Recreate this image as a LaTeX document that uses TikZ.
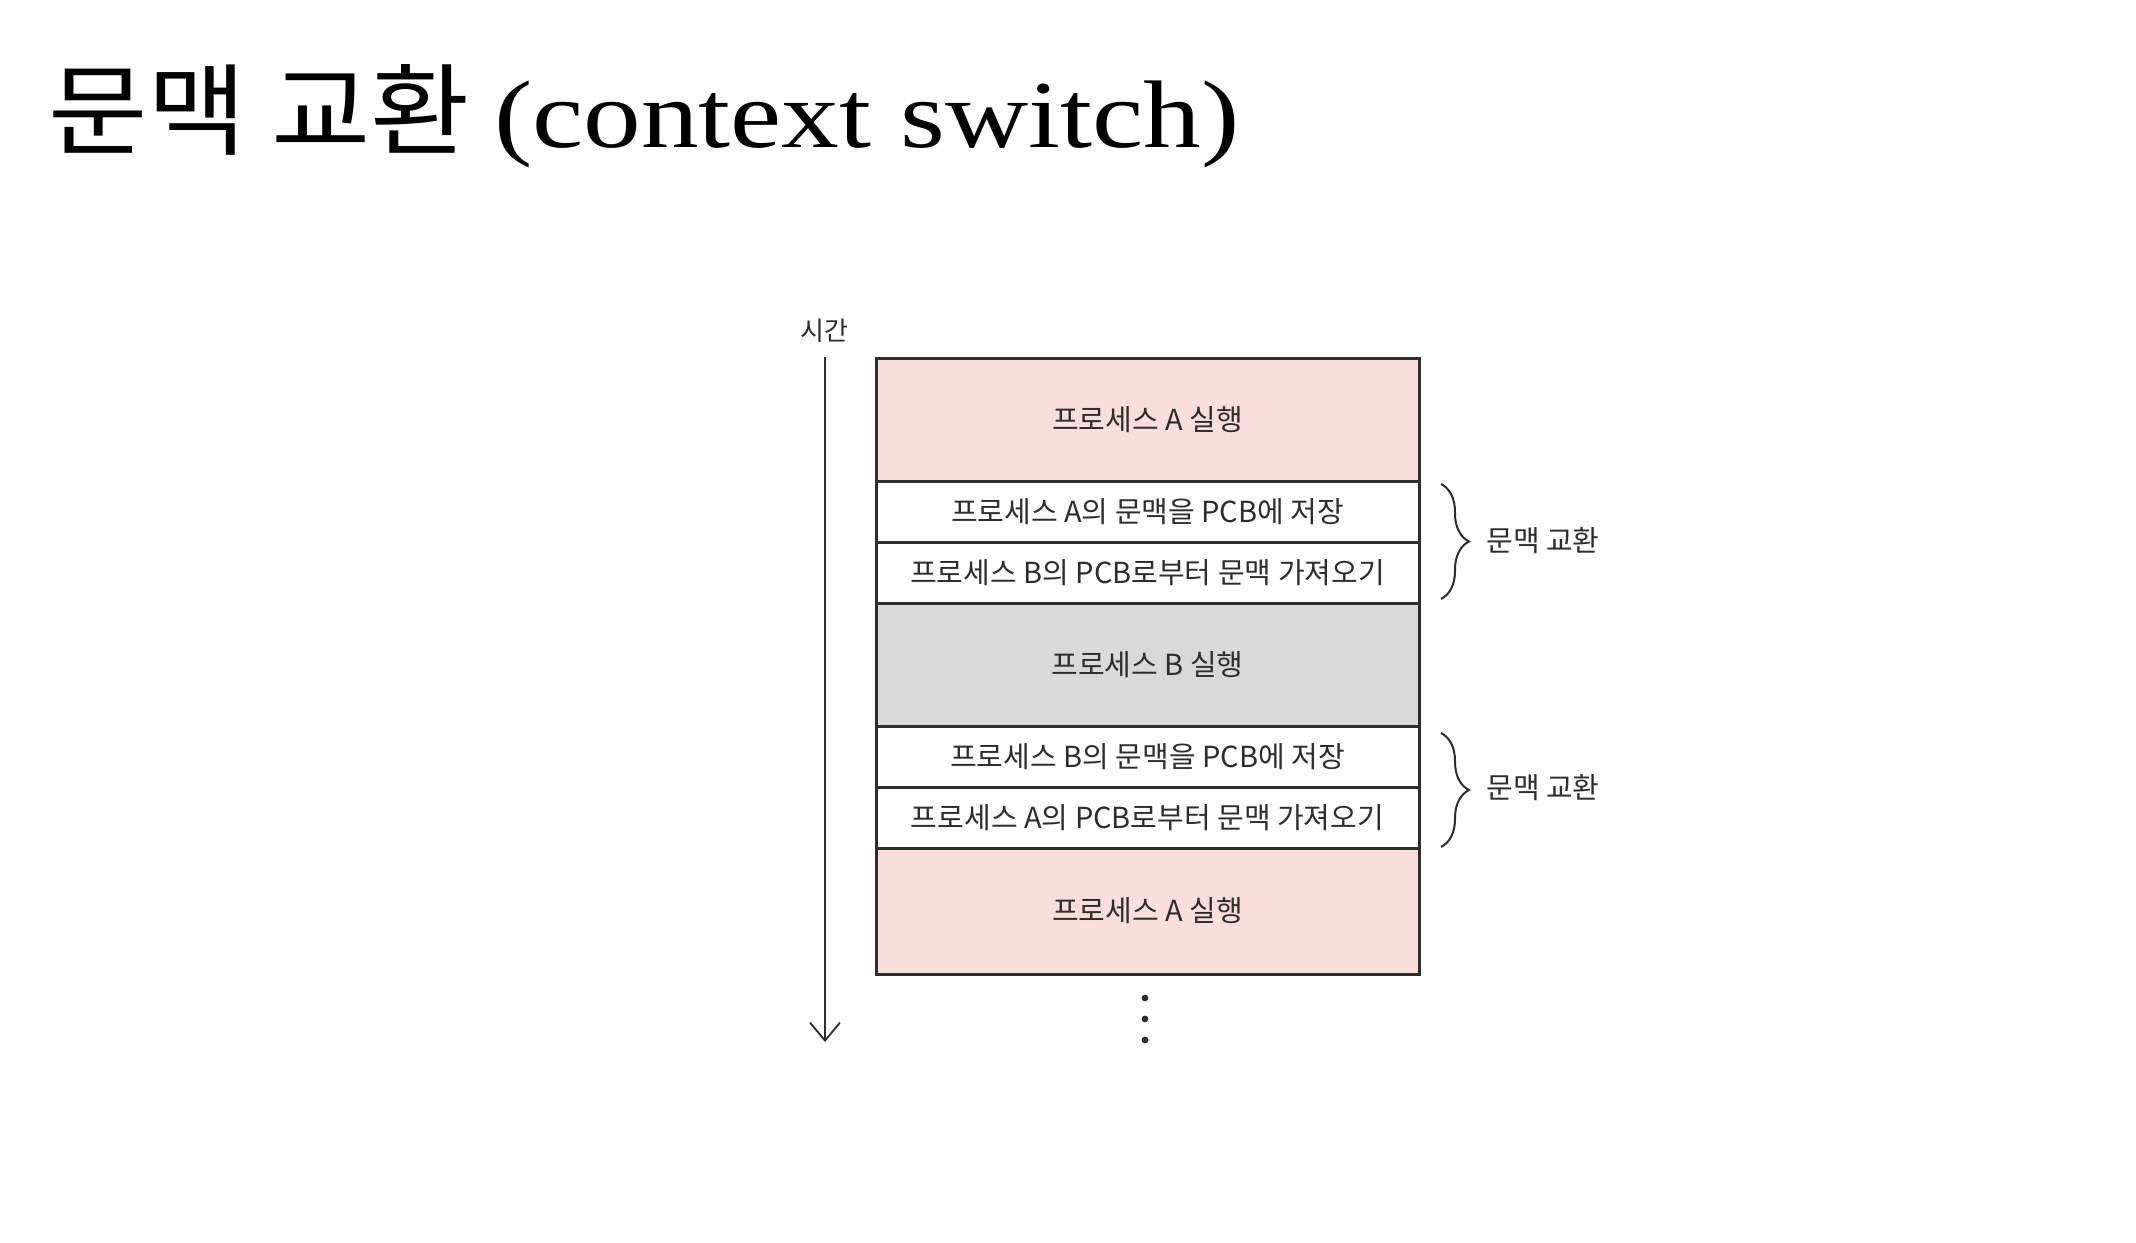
\documentclass[tikz,border=0pt]{standalone}
\usepackage{fontspec}
\setmainfont{Liberation Serif}
\newfontfamily\kr{Noto Sans CJK KR}
\newfontfamily\krtitle[FakeStretch=1.08]{Noto Sans CJK KR}
\newfontfamily\titlefont[FakeStretch=1.2]{Liberation Serif}
\usetikzlibrary{arrows.meta,decorations.pathreplacing}
\definecolor{pinkA}{RGB}{249,222,219}
\definecolor{grayB}{RGB}{217,217,217}
\definecolor{ink}{RGB}{45,45,45}
\begin{document}
\begin{tikzpicture}[x=0.5pt,y=-0.5pt,
  rowbox/.style={draw=ink, line width=1.5pt, minimum width=271.5pt, inner sep=0pt,
    font=\kr\fontsize{14.5}{17}\selectfont, text=ink},
  tall/.style={rowbox, minimum height=61.5pt},
  short/.style={rowbox, minimum height=30.5pt, fill=white},
  bracelbl/.style={font=\kr\fontsize{14.5}{17}\selectfont, text=ink},
  bracestyle/.style={draw=ink, line width=1pt, decorate, decoration={brace, amplitude=14pt}},
  dotnode/.style={circle, fill=ink, inner sep=0pt, minimum size=3.4pt}
]
\fill[white] (0,0) rectangle (2136,1242);
\useasboundingbox (0,0) rectangle (2136,1242);

% title
\node[anchor=base west, inner sep=0pt] (title) at (48,147)
  {{\krtitle\fontsize{50}{54}\selectfont 문맥 교환}\hspace{12pt}{\titlefont\fontsize{48}{54}\selectfont (context switch)}};

% rows
\node[tall, fill=pinkA] (rA1) at (1147.5,419.5) {프로세스 A 실행};
\node[short] (rS1) at (1147.5,511.5) {프로세스 A의 문맥을 PCB에 저장};
\node[short] (rL1) at (1147.5,572.5) {프로세스 B의 PCB로부터 문맥 가져오기};
\node[tall, fill=grayB] (rB) at (1147.5,664.5) {프로세스 B 실행};
\node[short] (rS2) at (1147.5,756.5) {프로세스 B의 문맥을 PCB에 저장};
\node[short] (rL2) at (1147.5,817.5) {프로세스 A의 PCB로부터 문맥 가져오기};
\node[rowbox, fill=pinkA, minimum height=63pt] (rA2) at (1147.5,911) {프로세스 A 실행};

% time arrow
\node[font=\kr\fontsize{13}{15}\selectfont, text=ink] (tlabel) at (824,331) {시간};
\coordinate (tTop) at (825,357);
\coordinate (tBot) at (825,1042);
\draw[ink, line width=0.9pt, -{Straight Barb[length=9pt,width=15pt,line width=0.9pt]}] (tTop) -- (tBot);

% braces
\coordinate (b1t) at (1441,484);
\coordinate (b1b) at (1441,599);
\coordinate (b2t) at (1441,733);
\coordinate (b2b) at (1441,847);
\draw[bracestyle] (b1t) -- (b1b);
\draw[bracestyle] (b2t) -- (b2b);
\node[bracelbl] (cs1) at (1543,541) {문맥 교환};
\node[bracelbl] (cs2) at (1543,788) {문맥 교환};

% dots
\node[dotnode] (d1) at (1145,998) {};
\node[dotnode] (d2) at (1145,1019) {};
\node[dotnode] (d3) at (1145,1040) {};
\end{tikzpicture}
\end{document}
